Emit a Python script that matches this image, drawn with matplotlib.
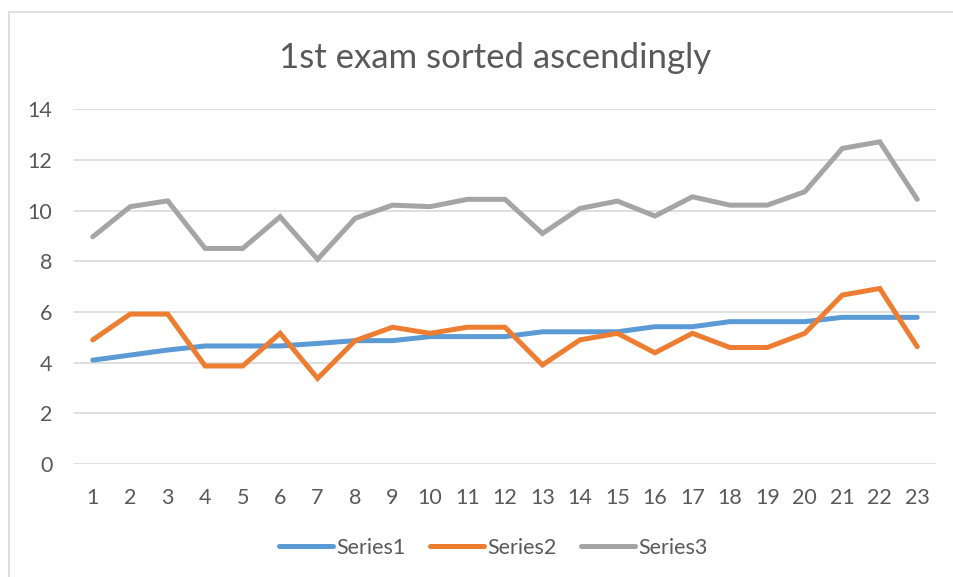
import matplotlib
matplotlib.use("Agg")
import matplotlib.pyplot as plt
from matplotlib.patches import Rectangle

categories = list(range(1, 24))
series1 = [4.1, 4.3, 4.5, 4.66, 4.66, 4.66, 4.76, 4.87, 4.87, 5.03, 5.03, 5.03,
           5.22, 5.22, 5.22, 5.42, 5.42, 5.62, 5.62, 5.62, 5.79, 5.79, 5.79]
series2 = [4.9, 5.92, 5.92, 3.87, 3.87, 5.16, 3.38, 4.87, 5.4, 5.16, 5.4, 5.4,
           3.91, 4.9, 5.16, 4.39, 5.16, 4.6, 4.6, 5.16, 6.67, 6.93, 4.63]
series3 = [8.97, 10.16, 10.39, 8.51, 8.51, 9.76, 8.08, 9.7, 10.22, 10.16, 10.45, 10.45,
           9.1, 10.09, 10.38, 9.79, 10.55, 10.22, 10.22, 10.75, 12.46, 12.72, 10.45]
series_names = ["Series1", "Series2", "Series3"]
colors = ["#5B9BD5", "#ED7D31", "#A5A5A5"]
title = "1st exam sorted ascendingly"
yticks = [0, 2, 4, 6, 8, 10, 12, 14]

plt.rcParams['font.family'] = ['Lato', 'DejaVu Sans']
W, H = 954, 577
fig = plt.figure(figsize=(W / 100, H / 100), dpi=100)
# axes: x 74..936, y 109.4..464
ax = fig.add_axes([74 / W, 1 - 464 / H, (936 - 74) / W, (464 - 109.4) / H])

for vals, name, c in zip([series1, series2, series3], series_names, colors):
    ax.plot(categories, vals, color=c, lw=3.6, label=name, solid_capstyle='round',
            solid_joinstyle='miter', zorder=3)

ax.set_xlim(0.5, 23.5)
ax.set_ylim(0, 14)
ax.set_yticks(yticks)
ax.set_xticks(categories)
ax.grid(axis='y', color='#D9D9D9', lw=1.2)
ax.set_axisbelow(True)
for s in ax.spines.values():
    s.set_visible(False)
ax.tick_params(axis='both', length=0, labelsize=15.5, labelcolor='#595959')
ax.tick_params(axis='y', pad=15.5)
ax.tick_params(axis='x', pad=17)

fig.text(495 / W, 1 - 68 / H, title, ha='center', va='baseline', fontsize=25,
         color='#595959', fontweight='normal')

leg = fig.legend(loc='center', bbox_to_anchor=(493.5 / W, 1 - 548 / H), ncol=3, frameon=False,
                 fontsize=15.5, handlelength=2.5, handletextpad=0.15, columnspacing=1.15)
for t in leg.get_texts():
    t.set_color('#595959')
for l in leg.get_lines():
    l.set_linewidth(3.6)
    l.set_solid_capstyle('round')

fig.patches.append(Rectangle((9.5 / W, -0.01), 1.0, 1 - 11.5 / H + 0.01, transform=fig.transFigure,
                             fill=False, edgecolor='#D9D9D9', lw=1.2))

fig.savefig("out.png", dpi=100, facecolor='white')
